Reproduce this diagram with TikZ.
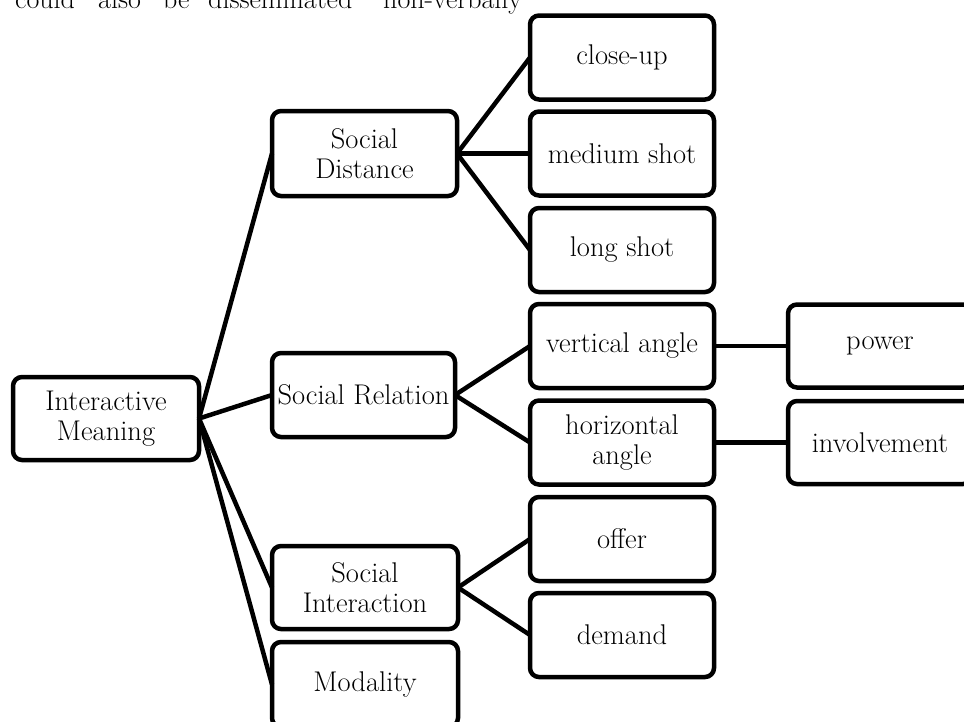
\documentclass[tikz,border=0pt]{standalone}
\usepackage{fontspec}
\begin{document}
\begin{tikzpicture}[x=1pt,y=-1pt,
  box/.style={draw,line width=4.5pt,rounded corners=9pt,align=center,inner sep=0pt,outer sep=0pt,
    font=\fontsize{28.5}{30}\selectfont},
  colbox/.style={box,minimum width=184pt,minimum height=84pt},
  conn/.style={line width=4.5pt},
  word/.style={anchor=base west,inner sep=0pt,font=\fontsize{28}{30}\selectfont}]
\useasboundingbox (0,0) rectangle (964,721);
\begin{scope}
\clip (0,0) rectangle (964,721);
% top text (cut by the page edge)
\node[word] (w1) at (15,8) {could};
\node[word] (w2) at (98,8) {also};
\node[word] (w3) at (163,8) {be};
\node[word] (w4) at (208,8) {disseminated};
\node[word] (w5) at (383,8) {non-verbally};
% level 0
\node[box,minimum width=186pt,minimum height=83pt] (im) at (106,418.5) {Interactive\\Meaning};
% level 1
\node[box,minimum width=185pt,minimum height=85pt] (sd) at (364.5,153.5) {Social\\Distance};
\node[box,minimum width=183pt,minimum height=84pt] (sr) at (363.5,395) {Social Relation};
\node[box,minimum width=186pt,minimum height=83pt] (si) at (365,587.5) {Social\\Interaction};
\node[box,minimum width=186pt,minimum height=85pt] (mo) at (365,684.5) {Modality};
% level 2
\node[colbox] (cu) at (622,57.5) {close-up};
\node[colbox] (ms) at (622,153.5) {medium shot};
\node[colbox] (ls) at (622,250) {long shot};
\node[colbox] (va) at (622,346) {vertical angle};
\node[colbox] (ha) at (622,442.5) {horizontal\\angle};
\node[colbox] (of) at (622,539) {offer};
\node[colbox] (de) at (622,635) {demand};
% level 3
\node[box,minimum width=184pt,minimum height=83pt] (pw) at (880,346) {power};
\node[box,minimum width=184pt,minimum height=83pt] (iv) at (880,442.5) {involvement};
% connectors
\draw[conn] (im.east) -- (sd.west);
\draw[conn] (im.east) -- (sr.west);
\draw[conn] (im.east) -- (si.west);
\draw[conn] (im.east) -- (mo.west);
\draw[conn] (sd.east) -- (cu.west);
\draw[conn] (sd.east) -- (ms.west);
\draw[conn] (sd.east) -- (ls.west);
\draw[conn] (sr.east) -- (va.west);
\draw[conn] (sr.east) -- (ha.west);
\draw[conn] (si.east) -- (of.west);
\draw[conn] (si.east) -- (de.west);
\draw[conn] (va.east) -- (pw.west);
\draw[conn] (ha.east) -- (iv.west);
\end{scope}
\end{tikzpicture}
\end{document}
